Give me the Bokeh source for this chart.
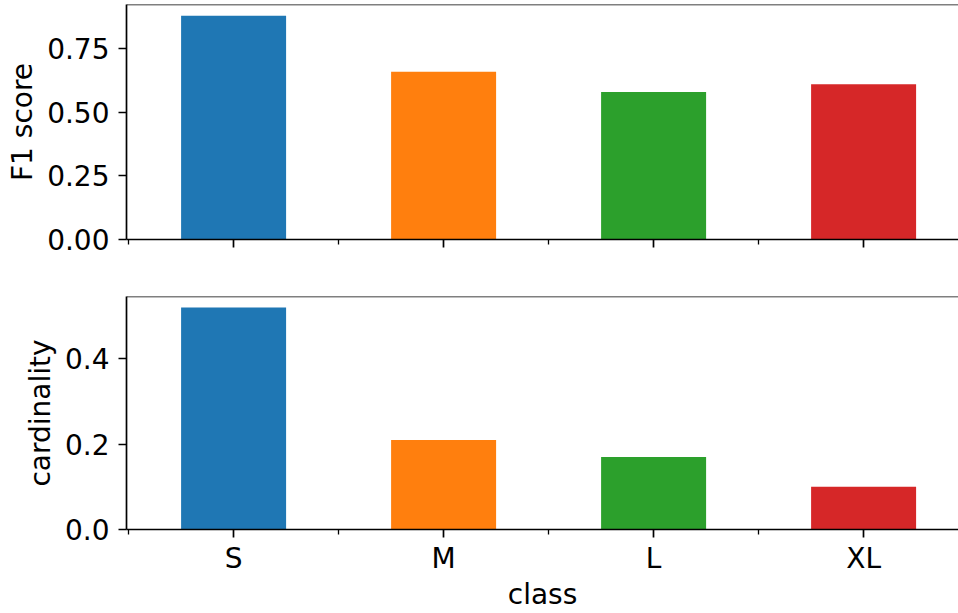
from bokeh.plotting import figure
from bokeh.layouts import column
from bokeh.models import Range1d, FixedTicker, Span, ColumnDataSource
from bokeh.embed import file_html
from bokeh.resources import INLINE

# ---- data ----
classes = ["S", "M", "L", "XL"]
f1_scores = [0.88, 0.66, 0.58, 0.61]
cardinality = [0.52, 0.21, 0.17, 0.10]
bar_colors = ["#1f77b4", "#ff7f0e", "#2ca02c", "#d62728"]
f1_ticks = [0.0, 0.25, 0.5, 0.75]
f1_tick_labels = ["0.00", "0.25", "0.50", "0.75"]
card_ticks = [0.0, 0.2, 0.4]
card_tick_labels = ["0.0", "0.2", "0.4"]

FONT = "DejaVu Sans"
FS = "28px"
LW = 1.7
INK = "black"

xpos = list(range(len(classes)))
minor_x = [i - 0.5 for i in xpos] + [xpos[-1] + 0.5]


def make_fig(values, ylabel, yticks, ylabels, height, mb_top, mb_bottom, show_xlabels):
    ymax = max(values) * 1.05
    p = figure(width=958, height=height, output_backend="svg", toolbar_location=None,
               x_range=Range1d(-0.51, -0.51 + 832 / 210), y_range=Range1d(0, ymax),
               min_border_left=126, min_border_right=0, min_border_top=mb_top,
               min_border_bottom=mb_bottom)
    src = ColumnDataSource(dict(x=xpos, top=values, color=bar_colors, cls=classes))
    p.vbar(x="x", top="top", width=0.5, color="color", source=src, line_color=None)
    p.grid.visible = False
    p.outline_line_color = None
    p.background_fill_color = "white"
    p.border_fill_color = "white"
    p.add_layout(Span(location=ymax, dimension="width", line_color=INK, line_width=LW))

    # y axis
    ya = p.yaxis[0]
    ya.ticker = FixedTicker(ticks=yticks, minor_ticks=[])
    ya.major_label_overrides = {t: l for t, l in zip(yticks, ylabels)}
    ya.axis_label = ylabel
    ya.axis_label_text_font = FONT
    ya.axis_label_text_font_size = FS
    ya.axis_label_text_font_style = "normal"
    ya.axis_label_text_color = INK
    ya.axis_label_standoff = 5
    ya.major_label_text_font = FONT
    ya.major_label_text_font_size = FS
    ya.major_label_text_color = INK
    ya.major_label_standoff = 9
    ya.major_tick_in = 0
    ya.major_tick_out = 8
    ya.major_tick_line_width = LW
    ya.major_tick_line_color = INK
    ya.axis_line_width = LW
    ya.axis_line_color = INK
    ya.minor_tick_line_color = None

    # x axis
    xa = p.xaxis[0]
    xa.ticker = FixedTicker(ticks=xpos, minor_ticks=minor_x)
    if show_xlabels:
        xa.major_label_overrides = {i: c for i, c in zip(xpos, classes)}
        xa.axis_label = "class"
        xa.axis_label_text_font = FONT
        xa.axis_label_text_font_size = FS
        xa.axis_label_text_font_style = "normal"
        xa.axis_label_text_color = INK
        xa.axis_label_standoff = 0
        xa.major_label_text_font = FONT
        xa.major_label_text_font_size = FS
        xa.major_label_text_color = INK
        xa.major_label_standoff = 4
    else:
        xa.major_label_overrides = {i: "" for i in xpos}
        xa.major_label_text_font_size = "1px"
    xa.major_tick_in = 0
    xa.major_tick_out = 8
    xa.minor_tick_in = 0
    xa.minor_tick_out = 5
    xa.major_tick_line_width = LW
    xa.major_tick_line_color = INK
    xa.minor_tick_line_width = 1.3
    xa.minor_tick_line_color = INK
    xa.axis_line_width = LW
    xa.axis_line_color = INK
    return p


p1 = make_fig(f1_scores, "F1 score", f1_ticks, f1_tick_labels, 293, 4, 54, False)
p2 = make_fig(cardinality, "cardinality", card_ticks, card_tick_labels, 320, 3, 84, True)

layout = column(p1, p2, spacing=0)
open("out.html", "w").write(file_html(layout, INLINE))
